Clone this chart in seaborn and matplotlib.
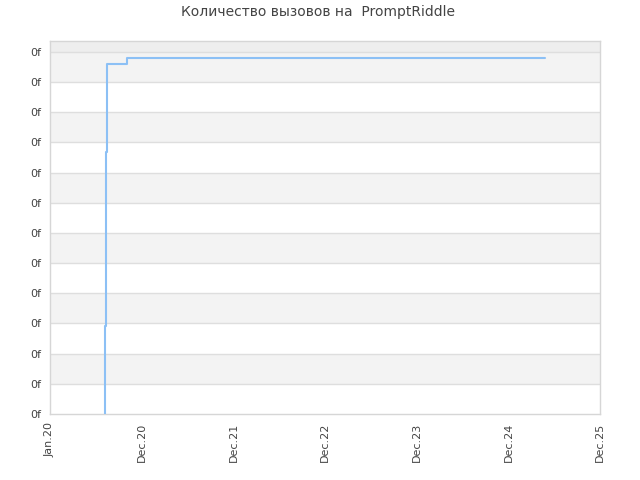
import pandas as pd
import matplotlib
matplotlib.use("Agg")
import matplotlib.pyplot as plt
import matplotlib.ticker as mticker
import seaborn as sns

sns.set_style("white")
plt.rcParams['font.family'] = ['DejaVu Sans']

# ============================================================
#  DATA
# ============================================================

call_dates = ['2020-08-07', '2020-08-11', '2020-08-15',
              '2020-11-04', '2020-11-10', '2025-05-28']
call_counts = [0.0, 2.92, 8.68, 11.61, 11.79, 11.81]

x_tick_dates = ['2020-01-01', '2021-01-01', '2022-01-01', '2023-01-01',
                '2024-01-01', '2025-01-01', '2026-01-01']
x_tick_labels = ['Jan.20', 'Dec.20', 'Dec.21', 'Dec.22', 'Dec.23', 'Dec.24', 'Dec.25']
y_ticks = list(range(13))
y_tick_labels = ['0f'] * 13
y_top = 12.36

df = pd.DataFrame({'date': pd.to_datetime(call_dates), 'calls': call_counts})

# ============================================================
#  PLOT
# ============================================================

fig = plt.figure(figsize=(6.4, 4.8), dpi=100)
ax = fig.add_axes([50 / 640, 1 - 414 / 480, 550 / 640, 373 / 480])

# alternating bands
for k in range(len(y_ticks) - 1):
    if k % 2 == 1:
        ax.axhspan(y_ticks[k], y_ticks[k + 1], color='#f3f3f3', zorder=0, lw=0)
ax.axhspan(y_ticks[-1], y_top, color='#eeeeee', zorder=0, lw=0)
for t in y_ticks[1:]:
    ax.axhline(t, color='#dedede', lw=1, zorder=1)

sns.lineplot(data=df, x='date', y='calls', ax=ax, color='#8cc0f5',
             linewidth=1.5, drawstyle='steps-pre', zorder=3)

ax.set_xlim(pd.Timestamp(x_tick_dates[0]), pd.Timestamp(x_tick_dates[-1]))
ax.set_ylim(0, y_top)
ax.set_xticks(pd.to_datetime(x_tick_dates))
ax.set_xticklabels(x_tick_labels, rotation=90, fontsize=8, color='#444444')
ax.yaxis.set_major_locator(mticker.FixedLocator(y_ticks))
ax.set_yticklabels(y_tick_labels, fontsize=8, color='#444444')
ax.tick_params(axis='both', length=0, pad=6)
ax.set_xlabel('')
ax.set_ylabel('')

for side in ['left', 'right', 'top', 'bottom']:
    ax.spines[side].set_color('#d6d6d6')
    ax.spines[side].set_linewidth(1)

fig.text(0.497, 1 - 12 / 480, 'Количество вызовов на  PromptRiddle',
         ha='center', va='center', fontsize=10, color='#444444')

fig.savefig('out.png', dpi=100)
